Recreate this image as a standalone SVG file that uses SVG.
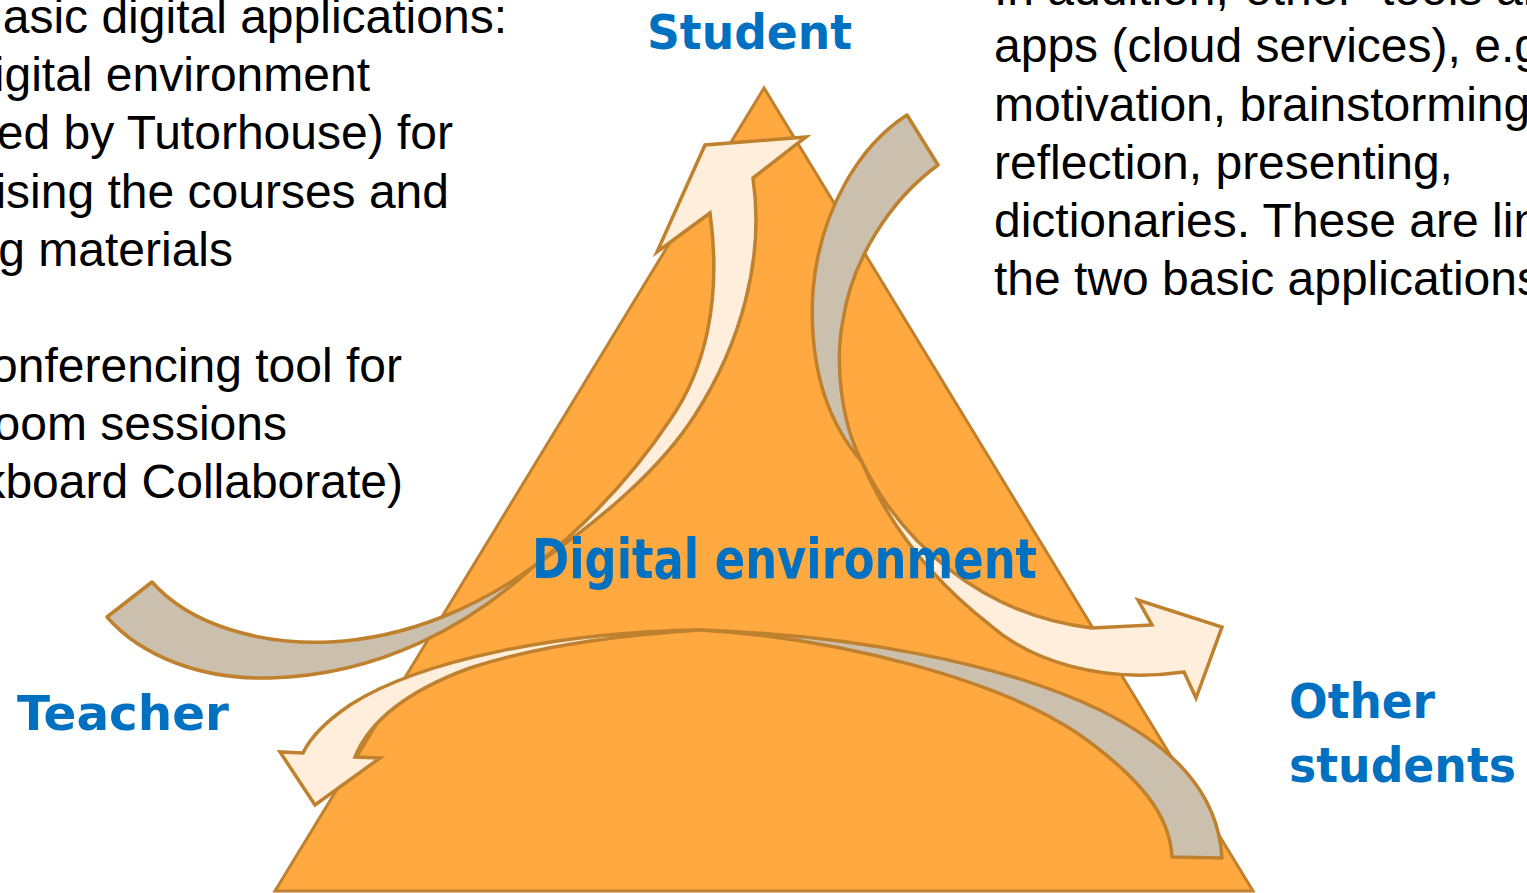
<svg xmlns="http://www.w3.org/2000/svg" width="1527" height="893" viewBox="0 0 1527 893">
  <style>
    .note { font-family: "Liberation Sans", Arial, sans-serif; font-size: 48px; fill: #000000; }
    .label { font-family: "DejaVu Sans", Verdana, sans-serif; font-weight: bold; fill: #0070C0; }
    .tri { fill: #FFA940; stroke: #C0812E; stroke-width: 3; stroke-linejoin: miter; }
    .shade { fill: #CBBFAE; stroke: #C0812E; stroke-width: 3.5; stroke-linejoin: round; }
    .front { fill: #FFEEDC; stroke: #C0812E; stroke-width: 3.5; stroke-linejoin: miter; }
  </style>

  <rect width="1527" height="893" fill="#ffffff"/>

  <!-- Left notes -->
  <g id="notes-left" class="note" text-anchor="end">
    <text x="507" y="33">asic digital applications:</text>
    <text x="370" y="91">igital environment</text>
    <text x="453" y="149">ed by Tutorhouse) for</text>
    <text x="449" y="208">ising the courses and</text>
    <text x="233" y="266">g materials</text>
    <text x="402" y="382">onferencing tool for</text>
    <text x="287" y="440">oom sessions</text>
    <text x="403" y="498">kboard Collaborate)</text>
  </g>

  <!-- Right notes -->
  <g id="notes-right" class="note">
    <text y="5"><tspan x="994">In addition,</tspan><tspan x="1245">other</tspan><tspan x="1381">tools</tspan><tspan x="1496">ar</tspan></text>
    <text x="994" y="62">apps (cloud services), e.g</text>
    <text x="994" y="121">motivation, brainstorming</text>
    <text x="994" y="179">reflection, presenting,</text>
    <text x="994" y="237">dictionaries. These are lin</text>
    <text x="994" y="295">the two basic applications</text>
  </g>

  <!-- Central triangle -->
  <g id="digital-environment">
    <polygon class="tri" points="764,88 275,891 1253,891"/>
  </g>

  <!-- Corner labels -->
  <g id="student">
    <text class="label" x="647" y="49" font-size="48" textLength="205" lengthAdjust="spacingAndGlyphs">Student</text>
  </g>
  <g id="teacher">
    <text class="label" x="17" y="730" font-size="48" textLength="212" lengthAdjust="spacingAndGlyphs">Teacher</text>
  </g>
  <g id="other-students">
    <text class="label" x="1289" y="718" font-size="48" textLength="146" lengthAdjust="spacingAndGlyphs">Other</text>
    <text class="label" x="1289" y="782" font-size="48" textLength="227" lengthAdjust="spacingAndGlyphs">students</text>
  </g>

  <!-- Curved ribbon arrows: shaded back part + light front part with head -->
  <g id="connectors">
    <!-- Teacher to Student -->
    <g id="teacher-to-student">
      <path class="shade" d="M152,582 C190,625 260,645 330,642 C410,638 480,605 533,567 C470,625 380,675 270,678 C200,680 140,655 107,617 Z"/>
      <path class="front" d="M753,178 L806,137 L705,145 L657,252 L710,213 C722,300 705,370 670,420 C630,480 580,530 533,567 C600,520 660,470 695,415 C740,345 765,260 753,178 Z"/>
    </g>
    <!-- Student to other students -->
    <g id="student-to-others">
      <path class="shade" d="M907,115 C860,145 820,210 813,290 C808,370 830,425 862,462 C840,420 835,360 843,320 C852,260 890,200 938,165 Z"/>
      <path class="front" d="M862,462 C900,540 980,615 1092,628 L1152,625 L1138,600 L1222,627 L1196,698 L1184,672 C1100,684 1030,660 990,625 C945,590 895,540 862,462 Z"/>
    </g>
    <!-- Other students to Teacher -->
    <g id="others-to-teacher">
      <path class="shade" d="M1222,858 C1218,790 1170,745 1100,710 C1000,662 850,635 700,630 C840,638 1000,680 1080,735 C1140,778 1170,815 1172,857 Z"/>
      <path class="front" d="M700,630 C560,632 420,660 350,705 C325,722 310,738 303,753 L280,752 L315,805 L380,758 L355,757 C370,720 410,690 470,668 C540,645 620,635 700,630 Z"/>
    </g>
  </g>

  <!-- Label of the central triangle, kept above the ribbons -->
  <g id="digital-environment-label">
    <text class="label" x="532" y="578" font-size="55" textLength="505" lengthAdjust="spacingAndGlyphs">Digital environment</text>
  </g>
</svg>
